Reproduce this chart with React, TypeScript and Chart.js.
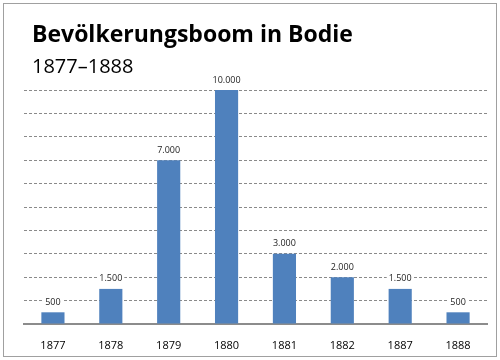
import React, { useEffect, useRef } from "react";
import { Chart, registerables } from "chart.js";

Chart.register(...registerables);

const TITLE = "Bevölkerungsboom in Bodie";
const SUBTITLE = "1877–1888";
const YEARS = ["1877", "1878", "1879", "1880", "1881", "1882", "1887", "1888"];
const POPULATION = [500, 1500, 7000, 10000, 3000, 2000, 1500, 500];
const Y_MAX = 10000;
const Y_STEP = 1000;

const FONT = "'Open Sans', 'Liberation Sans', sans-serif";

const fmt = (v: number) => v.toString().replace(/\B(?=(\d{3})+(?!\d))/g, ".");

const framePlugin = {
  id: "frame",
  beforeDraw(chart: any) {
    const ctx = chart.ctx;
    ctx.save();
    ctx.fillStyle = "#ffffff";
    ctx.fillRect(0, 0, chart.width, chart.height);
    ctx.strokeStyle = "#a0a0a0";
    ctx.lineWidth = 1;
    ctx.strokeRect(3.5, 3.5, chart.width - 7, chart.height - 7);
    ctx.fillStyle = "#000000";
    ctx.textBaseline = "alphabetic";
    ctx.textAlign = "left";
    ctx.font = `bold 23px ${FONT}`;
    ctx.fillText(TITLE, 32, 42);
    ctx.font = `20px ${FONT}`;
    ctx.fillText(SUBTITLE, 32, 73);
    ctx.restore();
  },
};

const labelPlugin = {
  id: "valueLabels",
  afterDatasetsDraw(chart: any) {
    const ctx = chart.ctx;
    const meta = chart.getDatasetMeta(0);
    ctx.save();
    ctx.font = `9px ${FONT}`;
    ctx.textAlign = "center";
    ctx.textBaseline = "middle";
    meta.data.forEach((bar: any, i: number) => {
      const text = fmt(POPULATION[i]);
      const w = ctx.measureText(text).width;
      const cx = bar.x;
      const cy = bar.y - 10;
      ctx.fillStyle = "#ffffff";
      ctx.fillRect(cx - w / 2 - 2, cy - 6, w + 4, 12);
      ctx.fillStyle = "#222222";
      ctx.fillText(text, cx, cy);
    });
    ctx.restore();
  },
};

export default function App() {
  const ref = useRef<HTMLCanvasElement>(null);
  useEffect(() => {
    if (!ref.current) return;
    const chart = new Chart(ref.current, {
      type: "bar",
      data: {
        labels: YEARS,
        datasets: [
          {
            data: POPULATION,
            backgroundColor: "#4F81BD",
            borderWidth: 0,
            categoryPercentage: 1,
            barPercentage: 0.4,
          },
        ],
      },
      options: {
        animation: false,
        responsive: false,
        layout: { padding: { top: 90, left: 24, right: 13, bottom: 0 } },
        plugins: {
          legend: { display: false },
          title: { display: false },
          tooltip: { enabled: false },
        },
        scales: {
          x: {
            afterFit: (scale: any) => {
              scale.height = 36;
            },
            grid: { display: false, drawTicks: false },
            border: { display: true, color: "#8c8c8c", width: 2 },
            ticks: {
              padding: 15,
              color: "#000000",
              font: { family: FONT, size: 11 },
            },
          },
          y: {
            min: 0,
            max: Y_MAX,
            ticks: { display: false, stepSize: Y_STEP },
            grid: {
              drawTicks: false,
              color: (c: any) => (c.tick.value === 0 ? "rgba(0,0,0,0)" : "#8a8a8a"),
              lineWidth: 1,
            },
            border: { display: false, dash: [3, 2] },
          },
        },
      },
      plugins: [framePlugin, labelPlugin],
    });
    return () => chart.destroy();
  }, []);
  return (
    <div style={{ position: "fixed", left: 0, top: 0, width: 500, height: 360, background: "#fff" }}>
      <canvas ref={ref} width={500} height={360} style={{ width: 500, height: 360 }} />
    </div>
  );
}
